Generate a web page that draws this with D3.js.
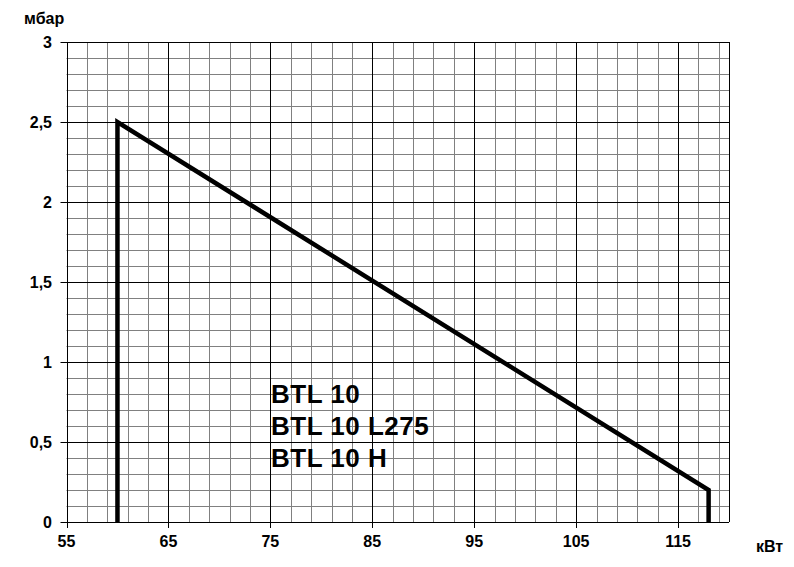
<!DOCTYPE html>
<html><head><meta charset="utf-8">
<script src="https://cdn.jsdelivr.net/npm/d3@7"></script>
<style>body{margin:0;background:#fff}svg{display:block}text{font-family:"Liberation Sans",Arial,sans-serif;font-weight:bold;fill:#000}</style>
</head><body>
<svg id="c" width="794" height="567"></svg>
<script>
const xTicks = [55,65,75,85,95,105,115];
const yTicks = [0,0.5,1,1.5,2,2.5,3];
const yTickLabels = ["0","0,5","1","1,5","2","2,5","3"];
const curveX = [60,60,118,118];
const curveY = [0,2.5,0.2,0];
const legendLines = ["BTL 10","BTL 10 L275","BTL 10 H"];
const xUnit = "кВт", yUnit = "мбар";

const svg = d3.select("#c");
const L=66.5,R=729,T=42,B=522;
const x = d3.scaleLinear().domain([55,120]).range([L,R]);
const y = d3.scaleLinear().domain([0,3]).range([B,T]);

const g = svg.append("g");
// minor grid
d3.range(57,120,2).filter(v=>(v-55)%10!==0).forEach(v=>{
  g.append("line").attr("x1",Math.round(x(v))+0.5).attr("x2",Math.round(x(v))+0.5).attr("y1",T).attr("y2",B).attr("stroke","#808080").attr("stroke-width",1);
});
d3.range(1,30).filter(i=>i%5!==0).forEach(i=>{
  const v=i/10;
  g.append("line").attr("y1",Math.round(y(v))+0.5).attr("y2",Math.round(y(v))+0.5).attr("x1",L).attr("x2",R).attr("stroke","#808080").attr("stroke-width",1);
});
// major grid
xTicks.forEach(v=>{
  g.append("line").attr("x1",Math.round(x(v))+0.5).attr("x2",Math.round(x(v))+0.5).attr("y1",T).attr("y2",B+6).attr("stroke","#000");
});
yTicks.forEach(v=>{
  g.append("line").attr("y1",Math.round(y(v))+0.5).attr("y2",Math.round(y(v))+0.5).attr("x1",L-6).attr("x2",R).attr("stroke","#000");
});
g.append("line").attr("x1",R+0.5).attr("x2",R+0.5).attr("y1",T).attr("y2",B).attr("stroke","#000");

// labels
xTicks.forEach(v=>{
  svg.append("text").attr("x",x(v)).attr("y",547).attr("text-anchor","middle").attr("font-size",16).text(v);
});
yTicks.forEach((v,i)=>{
  svg.append("text").attr("x",52).attr("y",y(v)+6).attr("text-anchor","end").attr("font-size",16).text(yTickLabels[i]);
});
svg.append("text").attr("x",24).attr("y",24).attr("font-size",16).text(yUnit);
svg.append("text").attr("x",756).attr("y",552).attr("font-size",16).text(xUnit);

// curve
const pts = curveX.map((v,i)=>[v,curveY[i]]);
svg.append("path").attr("d",d3.line().x(d=>x(d[0])).y(d=>y(d[1]))(pts))
  .attr("fill","none").attr("stroke","#000").attr("stroke-width",4.5).attr("stroke-linejoin","miter");

legendLines.forEach((t,i)=>{
  svg.append("text").attr("x",271).attr("y",403+i*32).attr("font-size",26).attr("letter-spacing","0.5").text(t);
});
</script>
</body></html>
